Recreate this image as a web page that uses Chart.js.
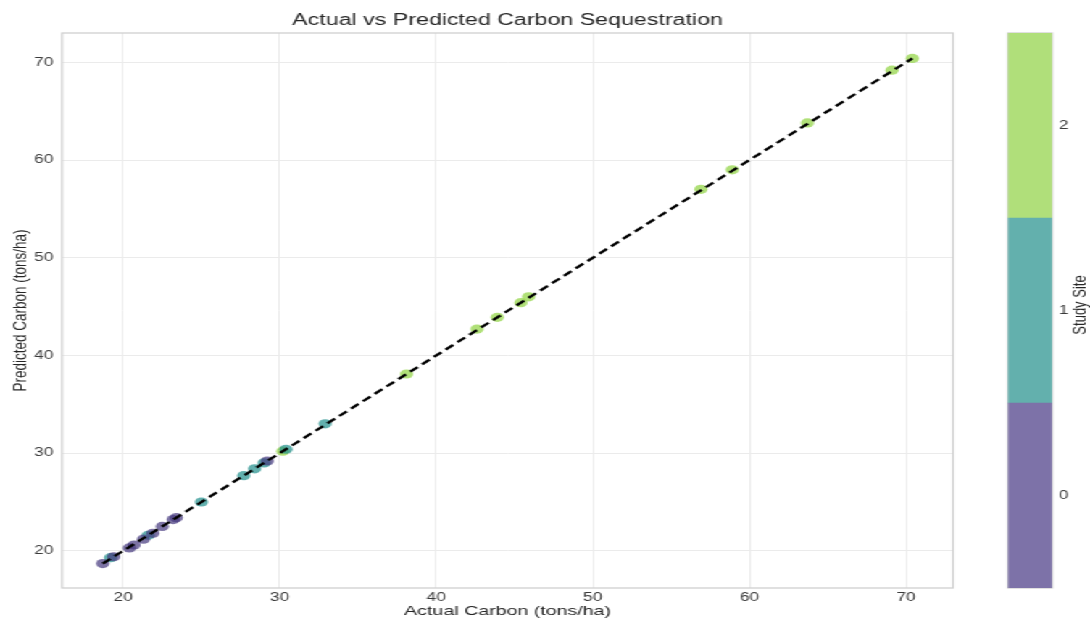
<!DOCTYPE html>
<html>
<head>
<meta charset="utf-8">
<script src="https://cdn.jsdelivr.net/npm/chart.js@4.4.1/dist/chart.umd.min.js"></script>
<style>
  body { margin: 0; background: #fff; overflow: hidden; }
  #wrap { position: relative; width: 1090px; height: 618px; overflow: hidden; }
  /* figure is laid out narrower, then widened to fill the page */
  #fig { position: absolute; left: 0; top: 0; width: 752px; height: 618px;
         transform: scaleX(1.4495); transform-origin: 0 0; }
  #main { position: absolute; left: 0; top: 0; }
  #cbar { position: absolute; left: 683px; top: 0; }
</style>
</head>
<body>
<div id="wrap">
  <div id="fig">
    <canvas id="main" width="676" height="618"></canvas>
    <canvas id="cbar" width="69" height="618"></canvas>
  </div>
</div>
<script>
// carbon per site, actual vs model prediction (tons/ha)
const actual    = [18.7, 19.2, 19.4, 20.4, 20.7, 21.3, 21.6, 21.9, 22.5, 23.2, 23.4, 25.0, 27.7, 28.4, 29.0, 29.2, 30.2, 30.4, 32.9, 38.1, 42.6, 43.9, 45.4, 45.9, 56.9, 58.9, 63.7, 69.1, 70.4];
const predicted = [18.7, 19.3, 19.4, 20.3, 20.6, 21.2, 21.6, 21.8, 22.5, 23.2, 23.4, 25.0, 27.7, 28.4, 29.0, 29.2, 30.2, 30.4, 33.0, 38.1, 42.7, 43.9, 45.4, 46.0, 57.0, 59.0, 63.8, 69.2, 70.4];
const site      = [0, 1, 0, 0, 0, 0, 1, 0, 0, 0, 0, 1, 1, 1, 1, 0, 2, 1, 1, 2, 2, 2, 2, 2, 2, 2, 2, 2, 2];
const siteLabels = [0, 1, 2];
const xTicks = [20, 30, 40, 50, 60, 70];
const yTicks = [20, 30, 40, 50, 60, 70];

const siteColors = ['rgba(69,55,126,0.7)', 'rgba(32,142,139,0.7)', 'rgba(142,211,62,0.7)'];
const barColors = ['#7d72a8', '#63b0ad', '#b0df7a'];
const FONT = "'Liberation Sans', Arial, sans-serif";

// light border around the plotting area
const frame = {
  id: 'frame',
  beforeDatasetsDraw(chart) {
    const a = chart.chartArea, ctx = chart.ctx;
    ctx.save();
    ctx.strokeStyle = '#d0d0d0';
    ctx.lineWidth = 1.3;
    ctx.strokeRect(a.left, a.top, a.right - a.left, a.bottom - a.top);
    ctx.restore();
  }
};

const siteSets = siteLabels.map(s => {
  const pts = [];
  actual.forEach((a, i) => { if (site[i] === s) pts.push({ x: a, y: predicted[i] }); });
  return {
    type: 'scatter',
    data: pts,
    backgroundColor: siteColors[s],
    borderWidth: 0,
    pointRadius: 4.6,
    pointHoverRadius: 4.6,
    order: 1
  };
});

const lo = Math.min(...actual), hi = Math.max(...actual);

new Chart(document.getElementById('main'), {
  type: 'scatter',
  data: {
    datasets: [
      ...siteSets,
      {
        type: 'line',
        data: [{ x: lo, y: lo }, { x: hi, y: hi }],
        borderColor: '#000',
        borderWidth: 2.3,
        borderDash: [7, 4],
        pointRadius: 0,
        fill: false,
        order: 0
      }
    ]
  },
  options: {
    responsive: false,
    animation: false,
    layout: { padding: { left: 0, right: 18.5, top: 0, bottom: 0 } },
    plugins: {
      legend: { display: false },
      tooltip: { enabled: false },
      title: {
        display: true,
        fullSize: false,
        text: 'Actual vs Predicted Carbon Sequestration',
        color: '#262626',
        font: { family: FONT, size: 16, weight: 'normal' },
        padding: { top: 11, bottom: 2.8 }
      }
    },
    scales: {
      x: {
        type: 'linear',
        min: 16.1,
        max: 73.0,
        afterBuildTicks: s => { s.ticks = xTicks.map(v => ({ value: v })); },
        afterFit: s => { s.height = 30; },
        grid: { color: '#ebebeb', drawTicks: false },
        border: { display: false },
        ticks: { color: '#3a3a3a', padding: 2.5, font: { family: FONT, size: 12 } },
        title: {
          display: true,
          text: 'Actual Carbon (tons/ha)',
          color: '#262626',
          font: { family: FONT, size: 13.5, lineHeight: 1 },
          padding: { top: 0, bottom: 0 }
        }
      },
      y: {
        type: 'linear',
        min: 16.2,
        max: 73.0,
        afterBuildTicks: s => { s.ticks = yTicks.map(v => ({ value: v })); },
        afterFit: s => { s.width = 42.8; },
        grid: { color: '#ebebeb', drawTicks: false },
        border: { display: false },
        ticks: { color: '#3a3a3a', padding: 6, font: { family: FONT, size: 12 } },
        title: {
          display: true,
          text: 'Predicted Carbon (tons/ha)',
          color: '#262626',
          font: { family: FONT, size: 13.5, lineHeight: 1 },
          padding: { top: 8, bottom: 0 }
        }
      }
    }
  },
  plugins: [frame]
});

// colour bar for study site, drawn as three floating bars
const cbarTitle = {
  id: 'cbarTitle',
  afterDraw(chart) {
    const ctx = chart.ctx;
    ctx.save();
    ctx.translate(62, 305);
    ctx.rotate(-Math.PI / 2);
    ctx.fillStyle = '#262626';
    ctx.font = '13px ' + FONT;
    ctx.textAlign = 'center';
    ctx.textBaseline = 'middle';
    ctx.fillText('Study Site', 0, 0);
    ctx.restore();
  }
};

new Chart(document.getElementById('cbar'), {
  type: 'bar',
  data: {
    labels: [''],
    datasets: siteLabels.map(s => ({
      data: [[s - 0.5, s + 0.5]],
      backgroundColor: barColors[s],
      borderWidth: 0,
      barPercentage: 1,
      categoryPercentage: 1
    }))
  },
  options: {
    responsive: false,
    animation: false,
    layout: { padding: { left: 12.4, right: 0, top: 33, bottom: 30 } },
    plugins: { legend: { display: false }, tooltip: { enabled: false } },
    scales: {
      x: { display: false, stacked: true },
      y: {
        position: 'right',
        min: -0.5,
        max: 2.5,
        afterBuildTicks: s => { s.ticks = siteLabels.map(v => ({ value: v })); },
        afterFit: s => { s.width = 26.2; },
        grid: { display: false, drawTicks: false },
        border: { display: false },
        ticks: { color: '#3a3a3a', padding: 4.8, autoSkip: false, font: { family: FONT, size: 12 } }
      }
    }
  },
  plugins: [frame, cbarTitle]
});
</script>
</body>
</html>
